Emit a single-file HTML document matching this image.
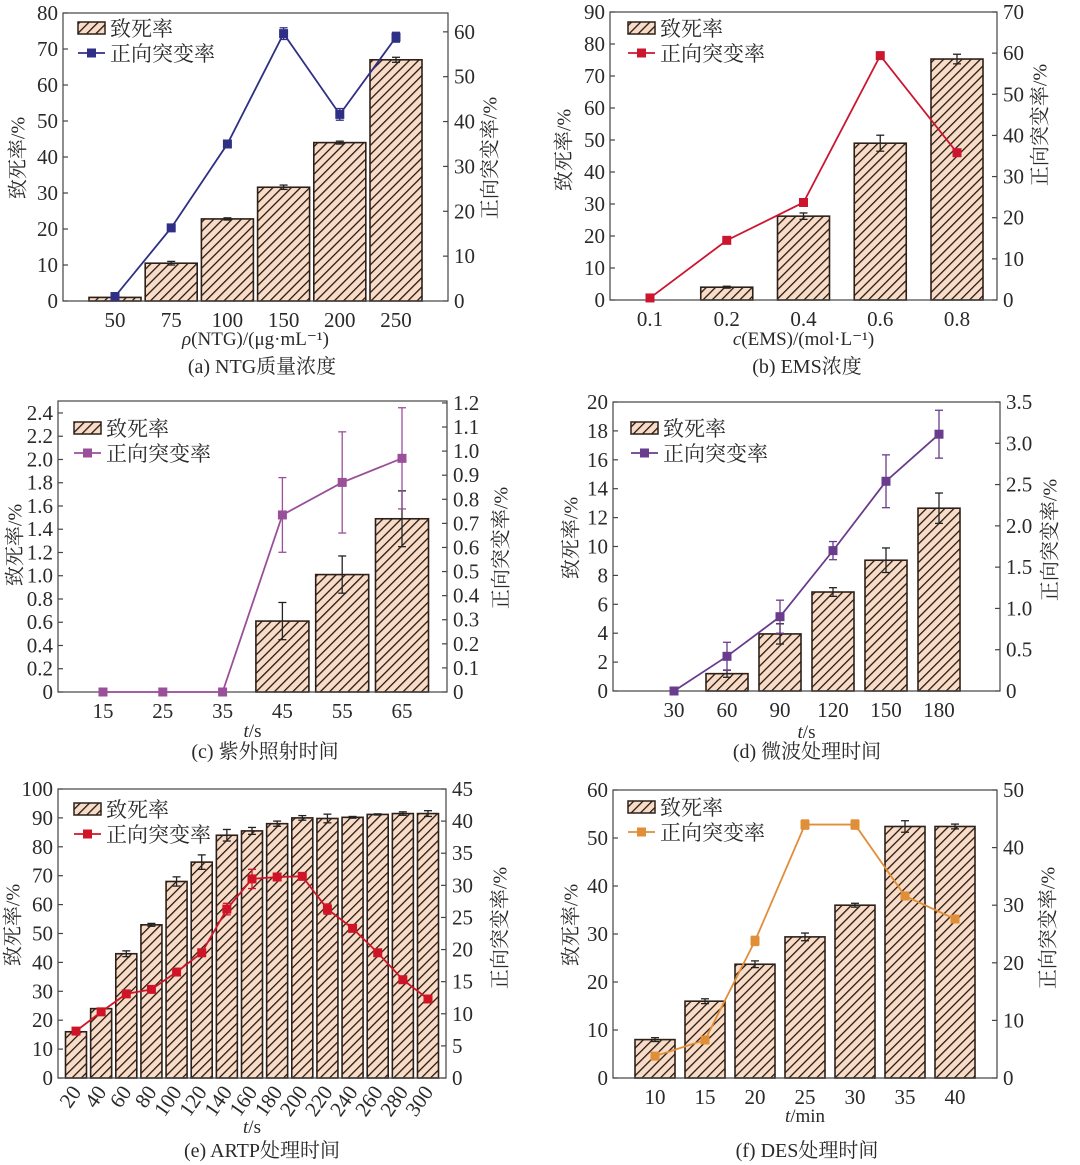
<!DOCTYPE html>
<html><head><meta charset="utf-8">
<style>
html,body{margin:0;padding:0;background:#fff;}
svg{display:block;font-family:"Liberation Serif","Noto Serif CJK SC",serif;}
</style></head>
<body>
<svg id="chart" width="1080" height="1165" viewBox="0 0 1080 1165" xmlns="http://www.w3.org/2000/svg">
<defs>
<pattern id="hatch" patternUnits="userSpaceOnUse" width="6.5" height="6.5" patternTransform="rotate(45)">
<rect width="6.5" height="6.5" fill="#f8dcc8"/>
<line x1="0" y1="0" x2="0" y2="6.5" stroke="#241810" stroke-width="2.6"/>
</pattern>
</defs>
</svg>
<script>
// Panel (a)
const aCats = ["50","75","100","150","200","250"];
const aLethal = [1, 10.5, 22.8, 31.6, 44, 67];
const aLethalErr = [0.2, 0.5, 0.3, 0.6, 0.4, 0.7];
const aMut = [1, 16.3, 35, 59.6, 41.6, 58.8];
const aMutErr = [0.3, 0.4, 0.4, 1.3, 1.3, 1.1];
const aLTicks = [0,10,20,30,40,50,60,70,80];
const aRTicks = [0,10,20,30,40,50,60];
// Panel (b)
const bCats = ["0.1","0.2","0.4","0.6","0.8"];
const bLethal = [0, 4, 26.2, 49, 75.3];
const bLethalErr = [0, 0.3, 1, 2.5, 1.5];
const bMut = [0.5, 14.5, 23.7, 59.4, 35.8];
const bMutErr = [0.2, 0.3, 0.3, 0.4, 0.4];
const bLTicks = [0,10,20,30,40,50,60,70,80,90];
const bRTicks = [0,10,20,30,40,50,60,70];
// Panel (c)
const cCats = ["15","25","35","45","55","65"];
const cLethal = [0, 0, 0, 0.61, 1.01, 1.49];
const cLethalErr = [0, 0, 0, 0.16, 0.16, 0.24];
const cMut = [0, 0, 0, 0.735, 0.87, 0.97];
const cMutErr = [0, 0, 0, 0.155, 0.21, 0.21];
const cLTicks = [0,0.2,0.4,0.6,0.8,1.0,1.2,1.4,1.6,1.8,2.0,2.2,2.4];
const cRTicks = [0,0.1,0.2,0.3,0.4,0.5,0.6,0.7,0.8,0.9,1.0,1.1,1.2];
// Panel (d)
const dCats = ["30","60","90","120","150","180"];
const dLethal = [0, 1.2, 3.95, 6.85, 9.05, 12.65];
const dLethalErr = [0, 0.25, 0.7, 0.3, 0.85, 1.05];
const dMut = [0, 0.42, 0.9, 1.7, 2.54, 3.11];
const dMutErr = [0, 0.17, 0.2, 0.11, 0.32, 0.29];
const dLTicks = [0,2,4,6,8,10,12,14,16,18,20];
const dRTicks = [0,0.5,1.0,1.5,2.0,2.5,3.0,3.5];
// Panel (e)
const eCats = ["20","40","60","80","100","120","140","160","180","200","220","240","260","280","300"];
const eLethal = [16, 24, 43, 53, 68, 74.7, 84, 85.5, 88, 90, 89.8, 90.2, 91.2, 91.5, 91.5];
const eLethalErr = [0, 0, 1, 0.5, 1.6, 2.5, 2, 1.2, 0.9, 0.8, 1.5, 0.3, 0.2, 0.6, 1];
const eMut = [7.3, 10.3, 13.1, 13.8, 16.5, 19.5, 26.3, 31, 31.3, 31.4, 26.3, 23.3, 19.5, 15.3, 12.3];
const eMutErr = [0.4, 0.4, 0.4, 0.4, 0.5, 0.5, 0.9, 1.5, 0.5, 0.5, 0.8, 0.4, 0.4, 0.4, 0.4];
const eLTicks = [0,10,20,30,40,50,60,70,80,90,100];
const eRTicks = [0,5,10,15,20,25,30,35,40,45];
// Panel (f)
const fCats = ["10","15","20","25","30","35","40"];
const fLethal = [8, 16, 23.7, 29.4, 36, 52.4, 52.4];
const fLethalErr = [0.4, 0.5, 0.7, 0.8, 0.4, 1.2, 0.5];
const fMut = [3.8, 6.6, 23.8, 44, 44, 31.6, 27.6];
const fMutErr = [0.3, 0.3, 0.8, 0.8, 0.8, 0.3, 0.3];
const fLTicks = [0,10,20,30,40,50,60];
const fRTicks = [0,10,20,30,40,50];

const NS = "http://www.w3.org/2000/svg";
const svg = document.getElementById("chart");
function mk(tag, attrs, parent, text){
  const e = document.createElementNS(NS, tag);
  for (const k in attrs) e.setAttribute(k, attrs[k]);
  if (text !== undefined) e.textContent = text;
  (parent || svg).appendChild(e);
  return e;
}
const fmt1 = v => v === 0 ? "0" : v.toFixed(1);
const fmt0 = v => String(v);
const FS = 21;

const panels = [
 {id:"a", x0:63, x1:448, yb:301, yt:13, lmax:80, rmax:64.2, pad:52, bw:52, color:"#2f2f86",
  cats:aCats, L:aLethal, LE:aLethalErr, M:aMut, ME:aMutErr, lt:aLTicks, rt:aRTicks, lf:fmt0, rf:fmt0,
  lgx:78, lgy:28, xt:"ρ(NTG)/(μg·mL⁻¹)", xty:345, cap:"(a) NTG质量浓度", cx:262, cy:373, ylx:20, yly:158, yrx:492, yry:158, rot:false},
 {id:"b", x0:610, x1:997, yb:300, yt:12, lmax:90, rmax:70, pad:40, bw:52, color:"#cc1630",
  cats:bCats, L:bLethal, LE:bLethalErr, M:bMut, ME:bMutErr, lt:bLTicks, rt:bRTicks, lf:fmt0, rf:fmt0,
  lgx:628, lgy:28, xt:"c(EMS)/(mol·L⁻¹)", xty:345, cap:"(b) EMS浓度", cx:807, cy:373, ylx:566, yly:150, yrx:1042, yry:125, rot:false},
 {id:"c", x0:58, x1:447, yb:692, yt:401, lmax:2.503, rmax:1.208, pad:45, bw:53, color:"#9a4f9a",
  cats:cCats, L:cLethal, LE:cLethalErr, M:cMut, ME:cMutErr, lt:cLTicks, rt:cRTicks, lf:fmt1, rf:fmt1,
  lgx:74, lgy:428, xt:"t/s", xty:737, cap:"(c) 紫外照射时间", cx:265, cy:758, ylx:17, yly:545, yrx:503, yry:548, rot:false},
 {id:"d", x0:613, x1:1000, yb:691, yt:402, lmax:20, rmax:3.5, pad:61, bw:42, color:"#6a3c8e",
  cats:dCats, L:dLethal, LE:dLethalErr, M:dMut, ME:dMutErr, lt:dLTicks, rt:dRTicks, lf:fmt0, rf:fmt1,
  lgx:631, lgy:428, xt:"t/s", xty:738, cap:"(d) 微波处理时间", cx:807, cy:758, ylx:573, yly:538, yrx:1052, yry:540, rot:false},
 {id:"e", x0:58, x1:446, yb:1078, yt:789, lmax:100, rmax:45, pad:18, bw:21, color:"#d01428",
  cats:eCats, L:eLethal, LE:eLethalErr, M:eMut, ME:eMutErr, lt:eLTicks, rt:eRTicks, lf:fmt0, rf:fmt0,
  lgx:74, lgy:809, xt:"t/s", xty:1133, cap:"(e) ARTP处理时间", cx:262, cy:1157, ylx:15, yly:925, yrx:502, yry:928, rot:true},
 {id:"f", x0:613, x1:997, yb:1078, yt:790, lmax:60, rmax:50, pad:42, bw:40, color:"#e08e38",
  cats:fCats, L:fLethal, LE:fLethalErr, M:fMut, ME:fMutErr, lt:fLTicks, rt:fRTicks, lf:fmt0, rf:fmt0,
  lgx:628, lgy:807, xt:"t/min", xty:1122, cap:"(f) DES处理时间", cx:807, cy:1157, ylx:573, yly:925, yrx:1050, yry:928, rot:false}
];

panels.forEach(p => {
  const g = mk("g", {});
  
  
  const n = p.cats.length;
  const step = (p.x1 - p.x0 - 2*p.pad) / (n - 1);
  const xs = i => p.x0 + p.pad + i*step;
  const yl = v => p.yb - v / p.lmax * (p.yb - p.yt);
  const yr = v => p.yb - v / p.rmax * (p.yb - p.yt);

  p.L.forEach((v, i) => {
    if (v <= 0) return;
    const r = mk("rect", {x: xs(i) - p.bw/2, y: yl(v), width: p.bw, height: p.yb - yl(v), fill: "url(#hatch)", stroke: "#2e2018", "stroke-width": 1.6}, g);
    
    
  });
  p.L.forEach((v, i) => {
    const e = p.LE[i];
    if (v <= 0 || e <= 0) return;
    const eg = mk("g", {stroke: "#222", "stroke-width": 1.3}, g);
    
    
    mk("line", {x1: xs(i), x2: xs(i), y1: yl(v+e), y2: yl(v-e)}, eg);
    mk("line", {x1: xs(i)-4, x2: xs(i)+4, y1: yl(v+e), y2: yl(v+e)}, eg);
    mk("line", {x1: xs(i)-4, x2: xs(i)+4, y1: yl(v-e), y2: yl(v-e)}, eg);
  });
  const box = mk("rect", {x: p.x0, y: p.yt, width: p.x1 - p.x0, height: p.yb - p.yt, fill: "none", stroke: "#444", "stroke-width": 1.2}, g);
  
  
  p.lt.forEach(t => {
    const y = yl(t);
    mk("line", {x1: p.x0, x2: p.x0 + 5, y1: y, y2: y, stroke: "#444", "stroke-width": 1.2}, g);
    const tx = mk("text", {x: p.x0 - 5, y: y + 7, "text-anchor": "end", "font-size": FS, fill: "#2a2a2a"}, g, p.lf(t));
    
    
  });
  p.rt.forEach(t => {
    const y = yr(t);
    mk("line", {x1: p.x1 - 5, x2: p.x1, y1: y, y2: y, stroke: "#444", "stroke-width": 1.2}, g);
    const tx = mk("text", {x: p.x1 + 6, y: y + 7, "text-anchor": "start", "font-size": FS, fill: "#2a2a2a"}, g, p.rf(t));
    
    
  });
  p.cats.forEach((c, i) => {
    let tx;
    if (p.rot) {
      tx = mk("text", {x: xs(i) + 6, y: p.yb + 14, "text-anchor": "end", "font-size": FS, fill: "#2a2a2a", transform: `rotate(-55 ${xs(i)+6} ${p.yb+14})`}, g, c);
    } else {
      tx = mk("text", {x: xs(i), y: p.yb + 26, "text-anchor": "middle", "font-size": FS, fill: "#2a2a2a"}, g, c);
    }
    
    
  });
  const pts = p.M.map((v, i) => xs(i) + "," + yr(v)).join(" ");
  const pl = mk("polyline", {points: pts, fill: "none", stroke: p.color, "stroke-width": 1.8}, g);
  
  
  p.M.forEach((v, i) => {
    const e = p.ME[i];
    if (e > 0.5 * (p.rmax / 60)) {
      const eg = mk("g", {stroke: p.color, "stroke-width": 1.3}, g);
      
      
      mk("line", {x1: xs(i), x2: xs(i), y1: yr(v+e), y2: yr(v-e)}, eg);
      mk("line", {x1: xs(i)-4, x2: xs(i)+4, y1: yr(v+e), y2: yr(v+e)}, eg);
      mk("line", {x1: xs(i)-4, x2: xs(i)+4, y1: yr(v-e), y2: yr(v-e)}, eg);
    }
    const m = mk("rect", {x: xs(i) - 4.5, y: yr(v) - 4.5, width: 9, height: 9, fill: p.color}, g);
    
    
  });
  const lg = mk("g", {}, g);
  
  
  mk("rect", {x: p.lgx, y: p.lgy - 6, width: 27, height: 12, fill: "url(#hatch)", stroke: "#2e2018", "stroke-width": 1.5}, lg);
  mk("text", {x: p.lgx + 32, y: p.lgy + 8, "font-size": 21, fill: "#2a2a2a"}, lg, "致死率");
  const ly = p.lgy + 25;
  mk("line", {x1: p.lgx, x2: p.lgx + 27, y1: ly, y2: ly, stroke: p.color, "stroke-width": 1.8}, lg);
  mk("rect", {x: p.lgx + 9, y: ly - 4.5, width: 9, height: 9, fill: p.color}, lg);
  mk("text", {x: p.lgx + 32, y: ly + 8, "font-size": 21, fill: "#2a2a2a"}, lg, "正向突变率");
  const xt = mk("text", {x: (p.x0 + p.x1) / 2, y: p.xty, "text-anchor": "middle", "font-size": 19, fill: "#2a2a2a"}, g);
  const m1 = p.xt.match(/^([a-zρ])(.*)$/);
  mk("tspan", {"font-style": "italic"}, xt, m1[1]);
  mk("tspan", {}, xt, m1[2]);
  
  
  const yt1 = mk("text", {x: p.ylx, y: p.yly, "text-anchor": "middle", "font-size": 20, fill: "#2a2a2a", transform: `rotate(-90 ${p.ylx} ${p.yly})`, "dominant-baseline": "middle"}, g, "致死率/%");
  
  
  const yt2 = mk("text", {x: p.yrx, y: p.yry, "text-anchor": "middle", "font-size": 20, fill: "#2a2a2a", transform: `rotate(-90 ${p.yrx} ${p.yry})`, "dominant-baseline": "middle"}, g, "正向突变率/%");
  
  
  const cp = mk("text", {x: p.cx, y: p.cy, "text-anchor": "middle", "font-size": 20, fill: "#2a2a2a"}, g, p.cap);
  
  
});
</script>
</body></html>
